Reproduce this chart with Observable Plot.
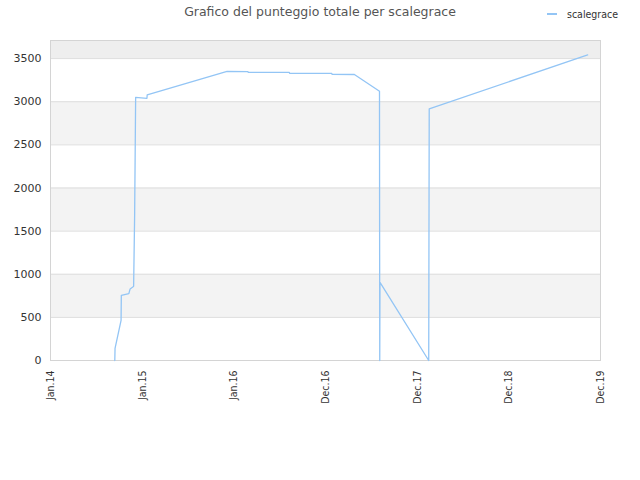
<!DOCTYPE html>
<html>
<head>
<meta charset="utf-8">
<script src="https://cdn.jsdelivr.net/npm/d3@7"></script>
<script src="https://cdn.jsdelivr.net/npm/@observablehq/plot@0.6"></script>
<style>
  body { margin: 0; background: white; }
  #wrap { position: relative; width: 640px; height: 480px; font-family: "DejaVu Sans", sans-serif; }
  #title { position: absolute; top: 4px; left: 0; width: 640px; text-align: center; font-size: 12.5px; color: #555; }
  #legend { position: absolute; top: 8px; left: 547px; font-size: 10.5px; color: #333; font-family: "DejaVu Sans Condensed", "DejaVu Sans", sans-serif; display: flex; align-items: center; }
  #legend .sw { display: inline-block; width: 10px; height: 1.5px; background: #93c5f5; margin-right: 10px; }
</style>
</head>
<body>
<div id="wrap">
  <div id="chart"></div>
  <div id="title">Grafico del punteggio totale per scalegrace</div>
  <div id="legend"><span class="sw"></span><span>scalegrace</span></div>
</div>
<script>
const dates = [
  "2014-09-14","2014-09-15","2014-10-09","2014-10-10","2014-11-09","2014-11-14",
  "2014-11-26","2014-11-28","2014-12-02","2014-12-04","2014-12-06","2015-01-20",
  "2015-01-21","2015-12-05","2016-02-26","2016-02-27","2016-08-09","2016-08-10",
  "2017-01-25","2017-01-26","2017-04-25","2017-08-03","2017-08-04","2017-08-05",
  "2018-02-15","2018-02-17","2019-11-10"
];
const scores = [
  0, 140, 465, 755, 775, 830,
  855, 860, 1680, 2350, 3050, 3040,
  3080, 3353, 3350, 3341, 3340, 3330,
  3328, 3318, 3316, 3121, 0, 905,
  0, 2917, 3543
];
const xTickDates = ["2014-01-01","2015-01-01","2016-01-01","2016-12-31","2017-12-31","2018-12-31","2019-12-31"];
const xTickLabels = ["Jan.14","Jan.15","Jan.16","Dec.16","Dec.17","Dec.18","Dec.19"];
const yTicks = [0, 500, 1000, 1500, 2000, 2500, 3000, 3500];
const bandLow = [500, 1500, 2500];
const bandHigh = [1000, 2000, 3000];
const yMax = 3710;

const data = dates.map((d, i) => ({date: new Date(d), score: scores[i]}));
const bands = bandLow.map((lo, i) => ({lo, hi: bandHigh[i]}));
const tickDates = xTickDates.map(d => new Date(d));
const labelMap = new Map(tickDates.map((d, i) => [+d, xTickLabels[i]]));

const chart = Plot.plot({
  width: 640,
  height: 480,
  marginTop: 40,
  marginLeft: 50,
  marginRight: 40,
  marginBottom: 120,
  x: {type: "utc", domain: [tickDates[0], tickDates[tickDates.length - 1]]},
  y: {domain: [0, yMax]},
  style: {fontFamily: "DejaVu Sans", fontSize: "11px", color: "#333", background: "white"},
  marks: [
    Plot.rect(bands, {y1: "lo", y2: "hi", fill: "#f3f3f3"}),
    Plot.rect([{lo: 3500, hi: yMax}], {y1: "lo", y2: "hi", fill: "#eeeeee"}),
    Plot.ruleY(yTicks, {stroke: "#dddddd"}),
    Plot.frame({stroke: "#d4d4d4"}),
    Plot.line(data, {x: "date", y: "score", stroke: "#93c5f5", strokeWidth: 1.3}),
    Plot.axisY({ticks: yTicks, tickFormat: d => String(d), tickSize: 0, tickPadding: 9, label: null}),
    Plot.axisX({ticks: tickDates, tickFormat: d => labelMap.get(+d), tickRotate: -90, tickSize: 0, tickPadding: 10, label: null, fontSize: 10.5, fontFamily: "DejaVu Sans Condensed, DejaVu Sans"})
  ]
});
document.getElementById("chart").appendChild(chart);
</script>
</body>
</html>
